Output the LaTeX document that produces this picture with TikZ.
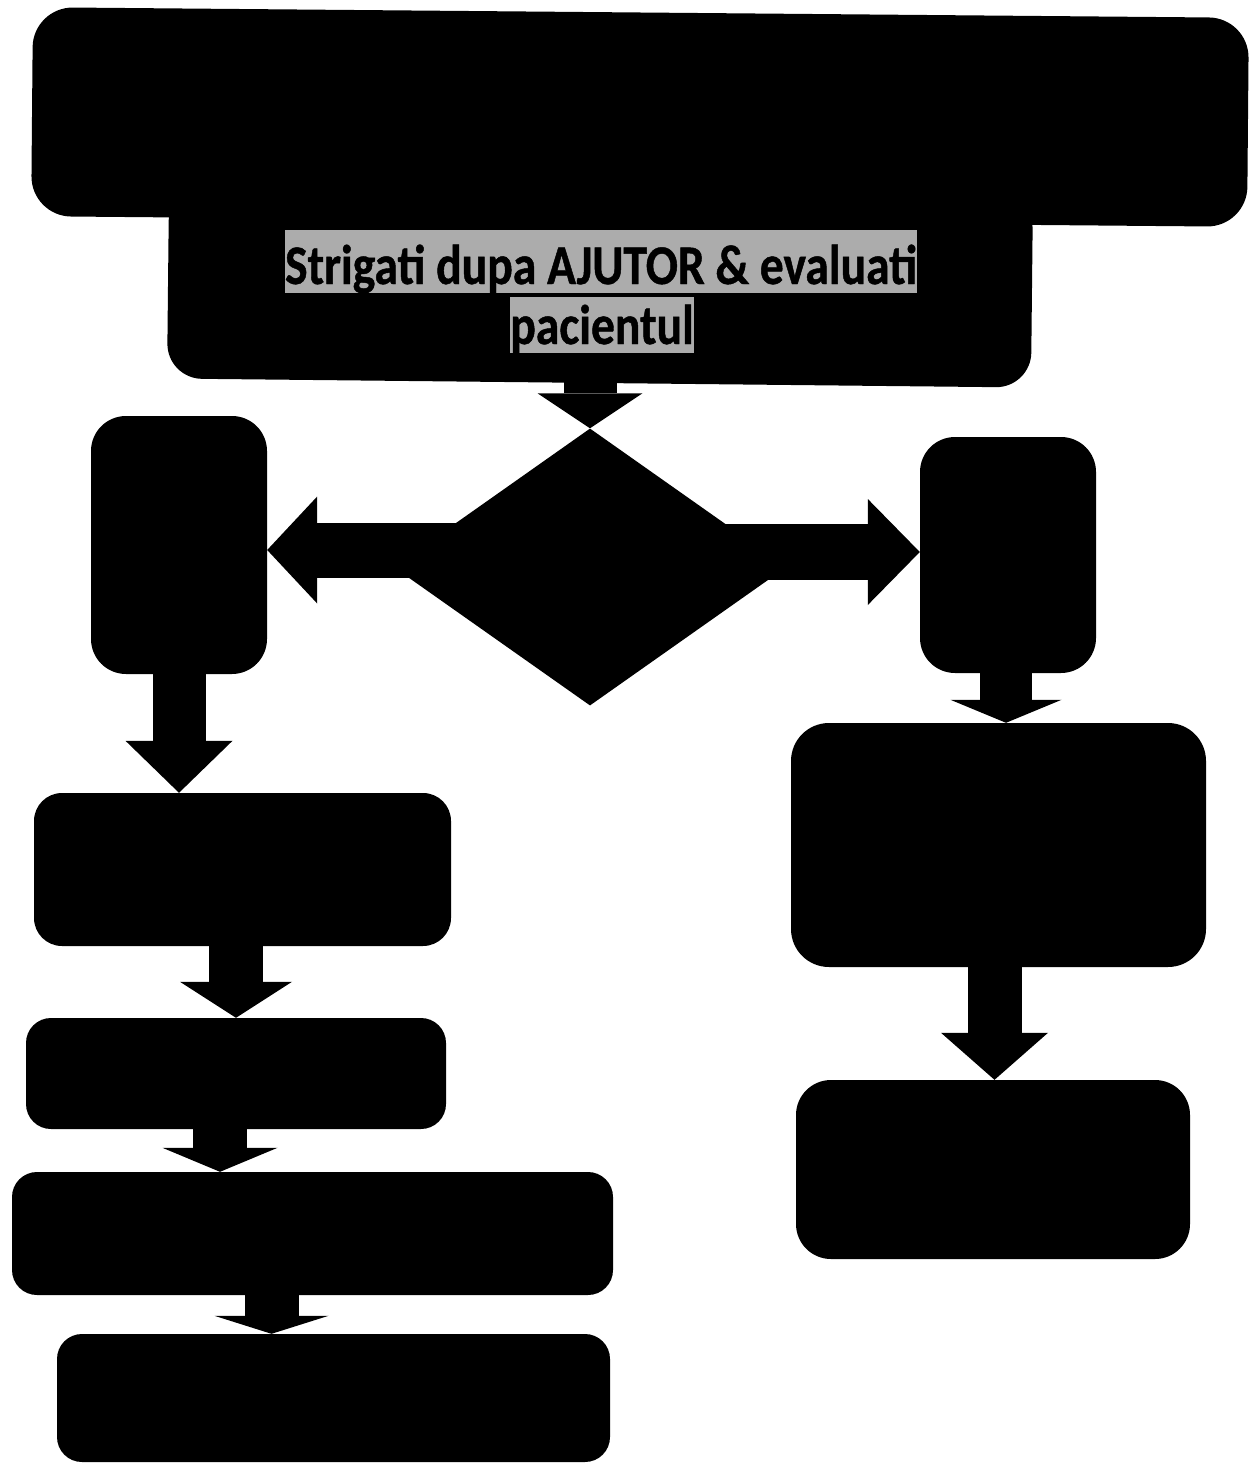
\documentclass[tikz,border=0pt]{standalone}
\usepackage{fontspec}
\newfontfamily\hlfont[FakeStretch=0.85,FakeBold=0.8]{Carlito}
\usetikzlibrary{shapes.geometric,arrows.meta,calc}
\definecolor{hlgray}{RGB}{172,172,172}
\begin{document}
\begin{tikzpicture}[x=1pt,y=-1pt,
  blk/.style={fill=black, draw=none, inner sep=0pt, rounded corners=#1},
  blk/.default=30pt,
  bx/.style n args={2}{minimum width=#1, minimum height=#2},
  barrow/.style n args={3}{draw=black, line width=#1, line cap=butt,
     -{Triangle[width=#2,length=#3,line width=0pt]}},
  hl/.style={fill=hlgray, inner sep=0pt, font=\hlfont\bfseries\fontsize{56}{62}\selectfont}]
\useasboundingbox (0,0) rectangle (1252,1463);

% boxes
\node[blk=40pt, bx={1216pt}{209pt}, rotate=-0.5] (top) at (640,117) {};
\node[blk=35pt, bx={864pt}{193pt}, rotate=-0.6] (B2) at (600,286.5) {};
\node[diamond, fill=black, inner sep=0pt, bx={393pt}{277pt}] (D) at (590,567) {};
\node[blk=35pt, bx={176pt}{258pt}] (LB) at (179,545) {};
\node[blk=35pt, bx={176pt}{236pt}] (RB) at (1008,555) {};
\node[blk=28pt, bx={417pt}{153pt}] (L1) at (242.5,869.5) {};
\node[blk=25pt, bx={420pt}{111pt}] (L2) at (236,1073.5) {};
\node[blk=25pt, bx={601pt}{123pt}] (L3) at (312.5,1233.5) {};
\node[blk=25pt, bx={553pt}{128pt}] (L4) at (333.5,1398) {};
\node[blk=38pt, bx={415pt}{244pt}] (R1) at (998.5,845) {};
\node[blk=35pt, bx={394pt}{179pt}] (R2) at (993,1169.5) {};

% highlighted text
\node[hl, text height=54pt, text depth=9pt, anchor=base] (t1) at (601,284) {Strigati dupa AJUTOR \& evaluati};
\node[hl, text height=47pt, text depth=9pt, anchor=base] (t2) at (602,344) {pacientul};

% connectors
\draw[barrow={53pt}{105pt}{35pt}] ($(D.north |- B2.south)+(0,-5)$) -- (D.north);
\draw[barrow={55pt}{107pt}{50pt}] ($(D.center)+(0,-17)$) -- ($(D.center -| LB.east)+(0,-17)$);
\draw[barrow={56pt}{106pt}{52pt}] ($(D.center)+(0,-15)$) -- ($(D.center -| RB.west)+(0,-15)$);
\draw[barrow={53pt}{107pt}{52pt}] (LB.south) -- (LB.south |- L1.north);
\draw[barrow={54pt}{112pt}{36pt}] (L1.south -| L2.north) -- (L2.north);
\draw[barrow={54pt}{115pt}{24pt}] ($(L2.south)+(-16,0)$) -- ($(L2.south |- L3.north)+(-16,0)$);
\draw[barrow={54pt}{114pt}{18pt}] ($(L3.south)+(-41,0)$) -- ($(L3.south |- L4.north)+(-41,0)$);
\draw[barrow={52pt}{111pt}{23pt}] ($(RB.south)+(-2,0)$) -- ($(RB.south |- R1.north)+(-2,0)$);
\draw[barrow={54pt}{107pt}{47pt}] ($(R1.south)+(-4,0)$) -- ($(R1.south |- R2.north)+(-4,0)$);
\end{tikzpicture}
\end{document}
